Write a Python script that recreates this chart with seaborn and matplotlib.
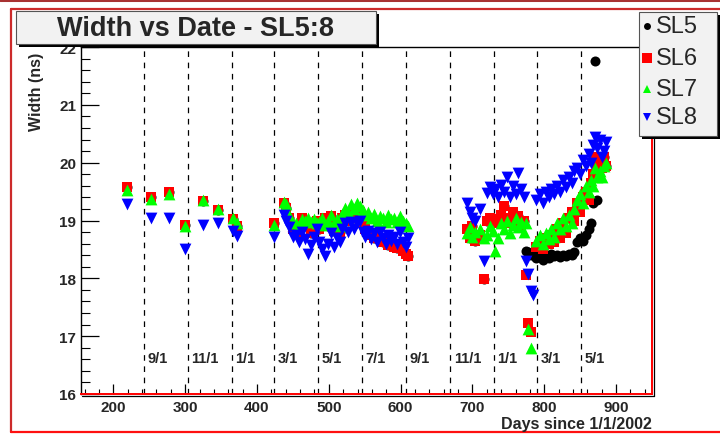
import numpy as np
import pandas as pd
import matplotlib
matplotlib.use("Agg")
import matplotlib.pyplot as plt
from matplotlib.patches import Rectangle
from matplotlib.lines import Line2D
from matplotlib.ticker import MultipleLocator
import seaborn as sns

NaN = np.nan

# Measurement days (days since 1/1/2002)
days = [
    219, 253, 277, 300, 325, 346, 366, 372,
    424, 437, 440, 445, 450,
    455, 459, 463, 467, 471, 475, 479, 483, 487, 491,
    495, 499, 503, 507, 511, 515, 519, 523, 527, 531,
    535, 539, 543, 547, 551, 555, 559, 563, 567, 571,
    575, 579, 583, 587, 591, 595, 599, 603, 607, 610,
    693, 697, 700, 704, 710, 716, 720, 724, 728, 732,
    736, 740, 744, 748, 752, 756, 760, 764, 768, 772,
    775, 778, 781, 784, 789, 794, 798, 802, 806, 810,
    814, 818, 822, 826, 830, 834, 838, 842, 846, 850,
    854, 858, 862, 865, 868, 871, 874, 877, 880, 883, 886,
]

# Pulse widths (ns) per superlayer
sl5 = [
    19.58, 19.40, 19.50, 18.93, 19.33, 19.18, 19.02, 18.90,
    18.95, 19.30, 19.22, 19.05, 18.85,
    18.85, 18.80, 19.05, 18.95, 18.90, 18.78, 18.95, 19.00, 18.85, 18.95,
    19.05, 18.90, 19.08, 18.82, 18.95, 18.80, 19.05, 19.10, 19.00, 19.12,
    19.05, 19.10, 19.15, 18.95, 18.85, 18.78, 18.75, 18.70, 18.72, 18.68,
    18.62, 18.65, 18.58, 18.60, 18.55, 18.52, 18.55, 18.48, 18.42, 18.38,
    18.85, 18.70, 18.90, 18.65, 18.75, 17.98, 19.00, 19.05, 18.98, 19.02,
    18.95, 19.10, 19.25, 19.05, 18.95, 19.15, 19.00, 19.08, 18.92, 19.00,
    18.48, 18.45, 18.40, 18.42, 18.35, 18.38, 18.32, 18.40, 18.35, 18.42,
    18.38, 18.40, 18.37, 18.40, 18.38, 18.42, 18.40, 18.45, 18.62, 18.70,
    18.65, 18.75, 18.85, 18.95, 19.30, 21.75, 19.35, 20.05, 19.90, 20.10, 19.95,
]
sl6 = [
    19.58, 19.40, 19.50, 18.93, 19.33, 19.18, 19.02, 18.90,
    18.95, 19.30, 19.22, 19.05, 18.85,
    18.85, 18.80, 19.05, 18.95, 18.90, 18.78, 18.95, 19.00, 18.85, 18.95,
    19.05, 18.90, 19.08, 18.82, 18.95, 18.80, 19.05, 19.10, 19.00, 19.12,
    19.05, 19.10, 19.15, 18.95, 18.85, 18.78, 18.75, 18.70, 18.72, 18.68,
    18.62, 18.65, 18.58, 18.60, 18.55, 18.52, 18.55, 18.48, 18.42, 18.38,
    18.85, 18.70, 18.90, 18.65, 18.75, 17.98, 19.00, 19.05, 18.98, 19.02,
    18.95, 19.10, 19.25, 19.05, 18.95, 19.15, 19.00, 19.08, 18.92, 19.00,
    18.05, 17.22, 17.08, NaN, 18.55, 18.65, 18.50, 18.70, 18.60, 18.75,
    18.62, 18.85, 18.70, 18.95, 18.78, 19.05, 19.15, 19.00, 19.30, 19.15,
    19.40, 19.50, 19.35, 19.65, 19.80, 20.10, 19.95, 20.05, 19.90, 20.10, 19.95,
]
sl7 = [
    19.52, 19.38, 19.45, 18.90, 19.35, 19.20, 19.05, 18.95,
    18.92, 19.32, 19.28, 19.10, 18.95,
    18.95, 18.92, 19.02, 19.00, 19.05, 18.98, 19.02, 18.95, 18.98, 19.05,
    18.92, 19.00, 19.10, 18.96, 19.02, 18.90, 19.12, 19.22, 19.15, 19.28,
    19.20, 19.30, 19.25, 19.18, 19.10, 19.15, 19.05, 19.12, 19.00, 19.08,
    19.05, 18.98, 19.10, 19.02, 19.05, 18.98, 19.08, 19.00, 18.95, 18.90,
    18.78, 18.88, 18.72, 18.80, 18.85, 18.70, 18.75, 18.90, 18.82, 18.48,
    18.70, 18.95, 18.85, 19.00, 18.78, 18.92, 19.05, 18.88, 18.98, 18.80,
    18.95, 17.12, 16.80, NaN, 18.65, 18.75, 18.60, 18.78, 18.68, 18.85,
    18.72, 18.95, 18.85, 19.05, 18.90, 19.10, 18.95, 19.20, 19.35, 19.45,
    19.30, 19.60, 19.50, 19.70, 19.60, 19.90, 19.75, 19.85, 19.75, 19.95, 20.00,
]
sl8 = [
    19.28, 19.05, 19.05, 18.50, 18.92, 18.95, 18.82, 18.74,
    18.72, 19.10, 19.00, 18.88, 18.72,
    18.75, 18.62, 18.80, 18.68, 18.42, 18.58, 18.72, 18.85, 18.62, 18.50,
    18.38, 18.60, 18.78, 18.55, 18.70, 18.62, 18.85, 18.95, 18.80, 18.98,
    18.85, 18.95, 19.00, 18.80, 18.72, 18.82, 18.68, 18.78, 18.62, 18.80,
    18.70, 18.60, 18.75, 18.65, 18.72, 18.60, 18.80, 18.62, 18.55, 18.70,
    19.30, 19.15, 19.05, 19.00, 19.20, 18.30, 19.48, 19.58, 19.45, 19.55,
    19.40, 19.62, 19.50, 19.75, 19.40, 19.60, 19.45, 19.82, 19.55, 19.40,
    18.30, 18.08, 17.78, 17.72, 19.35, 19.45, 19.30, 19.50, 19.40, 19.55,
    19.45, 19.60, 19.50, 19.70, 19.58, 19.75, 19.65, 19.85, 19.90, 19.80,
    20.05, 19.95, 20.15, 20.00, 20.30, 20.45, 20.25, 20.40, 20.10, 20.20, 20.35,
]

layers = ["SL5", "SL6", "SL7", "SL8"]
month_days = [243, 304, 365, 424, 485, 546, 608, 669, 730, 790, 851]
month_labels = ["9/1", "11/1", "1/1", "3/1", "5/1", "7/1", "9/1", "11/1", "1/1", "3/1", "5/1"]

df = pd.DataFrame({
    "day": np.tile(days, 4),
    "width": np.concatenate([sl5, sl6, sl7, sl8]),
    "layer": np.repeat(layers, len(days)),
})

sns.set_theme(style="white")
plt.rcParams["font.family"] = ["Liberation Sans", "DejaVu Sans"]

W, H = 720, 439
fig = plt.figure(figsize=(W / 100, H / 100), dpi=100)
fig.patch.set_facecolor("white")


def fx(px):
    return px / W


def fy(py):
    return 1 - py / H


ax = fig.add_axes([fx(81), fy(395), (652 - 81) / W, (395 - 48) / H])
ax.set_facecolor("white")

styles = {
    "SL5": dict(marker="o", color="black", s=52),
    "SL6": dict(marker="s", color="#ff0000", s=54),
    "SL7": dict(marker="^", color="#00ff00", s=72),
    "SL8": dict(marker="v", color="#0000ff", s=72),
}
for name in layers:
    st = styles[name]
    sns.scatterplot(data=df[df["layer"] == name], x="day", y="width",
                    marker=st["marker"], color=st["color"], s=st["s"],
                    linewidth=0, ax=ax, legend=False, zorder=3)

for d, lab in zip(month_days, month_labels):
    ax.axvline(d, color="black", lw=0.9, ls=(0, (4.5, 4.5)), zorder=1)
    ax.annotate(lab, xy=(d, 16.62), xytext=(2.5, 0), textcoords="offset points",
                ha="left", va="center", fontsize=10.5, fontweight="bold")

ax.set_xlim(155, 950)
ax.set_ylim(16, 22)
ax.xaxis.set_major_locator(MultipleLocator(100))
ax.xaxis.set_minor_locator(MultipleLocator(20))
ax.yaxis.set_major_locator(MultipleLocator(1))
ax.yaxis.set_minor_locator(MultipleLocator(0.2))
ax.tick_params(axis="x", which="major", direction="in", length=7.2, width=0.9,
               pad=4.5, labelsize=11, bottom=True, top=False, color="black")
ax.tick_params(axis="x", which="minor", direction="in", length=3.6, width=0.8,
               bottom=True, top=False, color="black")
ax.tick_params(axis="y", which="major", direction="in", length=13, width=0.9,
               pad=3.5, labelsize=11, left=True, right=False, color="black")
ax.tick_params(axis="y", which="minor", direction="in", length=6.5, width=0.8,
               left=True, right=False, color="black")
for lbl in ax.get_xticklabels() + ax.get_yticklabels():
    lbl.set_fontweight("bold")
ax.set_xlabel("")
ax.set_ylabel("")

for side in ["left", "top"]:
    ax.spines[side].set_color("black")
    ax.spines[side].set_linewidth(1.0)
for side in ["right", "bottom"]:
    ax.spines[side].set_color("#ff0000")
    ax.spines[side].set_linewidth(1.4)

# frame shadow along bottom and right edges
fig.add_artist(Line2D([fx(82), fx(654)], [fy(397), fy(397)], color="black", lw=0.9))
fig.add_artist(Line2D([fx(654), fx(654)], [fy(50), fy(397)], color="black", lw=0.9))

# canvas border
fig.add_artist(Line2D([0, 1], [fy(1), fy(1)], color="#a83232", lw=2.2))
fig.add_artist(Line2D([fx(11), 1], [fy(10), fy(10)], color="#cc2a2a", lw=1.6))
fig.add_artist(Line2D([fx(11), fx(11)], [fy(10), fy(433)], color="#cc2a2a", lw=1.6))
fig.add_artist(Line2D([fx(11), 1], [fy(433), fy(433)], color="#ff1010", lw=1.6))

# axis titles
fig.text(fx(36), fy(53), "Width (ns)", rotation=90, ha="center", va="top",
         fontsize=11.5, fontweight="bold")
fig.text(fx(652), fy(425), "Days since 1/1/2002", ha="right", va="center",
         fontsize=11.5, fontweight="bold")


def box(x0, y0, x1, y1, z):
    fig.add_artist(Rectangle((fx(x0 + 3), fy(y1 + 3)), (x1 - x0) / W, (y1 - y0) / H,
                             transform=fig.transFigure, facecolor="black",
                             edgecolor="none", zorder=z))
    fig.add_artist(Rectangle((fx(x0), fy(y1)), (x1 - x0) / W, (y1 - y0) / H,
                             transform=fig.transFigure, facecolor="#f2f2f2",
                             edgecolor="#555555", lw=0.8, zorder=z + 0.1))


# title box
box(16, 12, 376, 45, 10)
fig.text(fx(196), fy(29), "Width vs Date - SL5:8", ha="center", va="center",
         fontsize=19.5, fontweight="bold", zorder=11)

# legend box
box(639, 13, 717, 137, 10)
legend_rows = [27, 59, 90, 118]
legend_ms = {"SL5": 5.0, "SL6": 6.5, "SL7": 6.0, "SL8": 6.0}
for name, py in zip(layers, legend_rows):
    st = styles[name]
    fig.add_artist(Line2D([fx(647)], [fy(py)], marker=st["marker"], color=st["color"],
                          markersize=legend_ms[name], markeredgewidth=0, ls="none",
                          zorder=12))
    fig.text(fx(656), fy(py), name, ha="left", va="center", fontsize=17, zorder=12)

fig.savefig("out.png", dpi=100)
